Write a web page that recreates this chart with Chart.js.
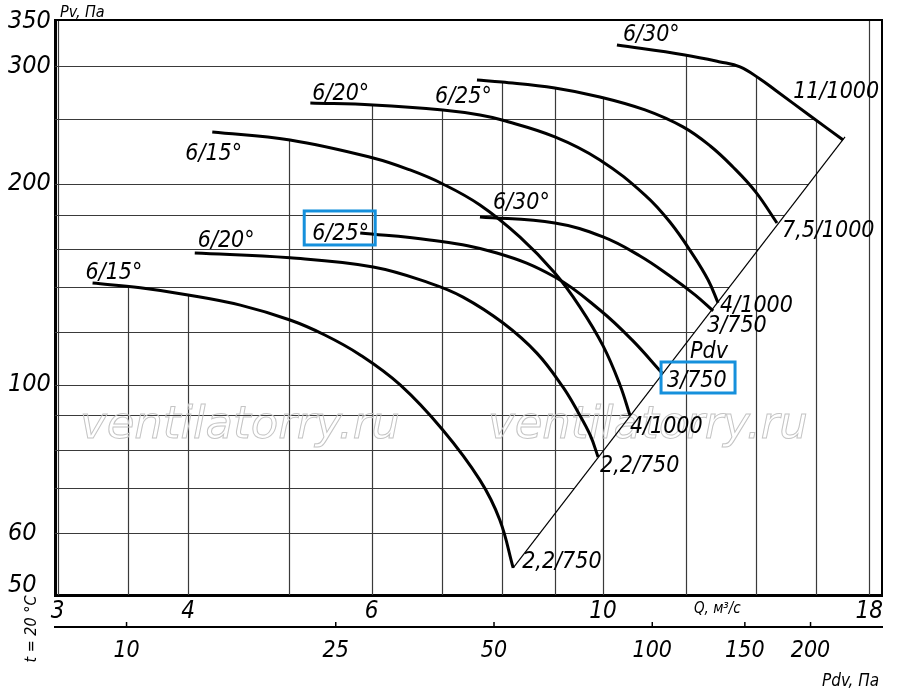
<!DOCTYPE html>
<html><head><meta charset="utf-8">
<script src="https://cdn.jsdelivr.net/npm/chart.js@4.4.0/dist/chart.umd.min.js"></script>
<style>html,body{margin:0;padding:0;background:#fff}#wrap{width:900px;height:690px;position:relative}</style>
</head><body><div id="wrap"><canvas id="c"></canvas></div>
<script>
// ---- axis ticks ----
const qTicks = [3, 3.5, 4, 5, 6, 7, 8, 9, 10, 12, 14, 16, 18];
const qLabels = [3, 4, 6, 10, 18];
const pvTicks = [50, 60, 70, 80, 90, 100, 120, 140, 160, 180, 200, 250, 300, 350];
const pvLabels = [50, 60, 100, 200, 300, 350];
const pvNoGrid = [50, 350];
const pdvTicks = [10, 25, 50, 100, 150, 200];

// ---- 750 rpm curves (Q, m3/s ; Pv, Pa) ----
const q750_15 = [3.24, 3.60, 4.00, 4.49, 5.01, 5.41, 5.85, 6.39, 7.02, 7.62, 7.96, 8.20];
const pv750_15 = [142.1, 139.8, 136.4, 131.7, 125.1, 118.8, 110.9, 100.0, 85.6, 72.0, 62.8, 53.2];
const q750_20 = [4.06, 5.01, 6.02, 6.82, 7.34, 8.02, 8.64, 9.15, 9.46, 9.72, 9.89];
const pv750_20 = [157.6, 155.0, 150.2, 142.1, 135.4, 123.8, 111.6, 99.3, 91.1, 84.1, 78.0];
const q750_25 = [5.85, 6.82, 7.91, 8.99, 9.93, 10.66, 11.39];
const pv750_25 = [168.9, 164.9, 157.6, 145.1, 129.5, 116.8, 104.2];
const q750_30 = [7.62, 8.99, 10.00, 10.85, 11.59, 12.25, 12.75];
const pv750_30 = [178.5, 174.8, 166.6, 156.0, 145.6, 136.4, 129.1];
// ---- 1000 rpm curves ----
const q1000_15 = [4.22, 5.01, 6.02, 6.53, 7.02, 7.62, 8.32, 8.99, 9.50, 10.00, 10.38, 10.61];
const pv1000_15 = [239.3, 232.8, 218.8, 209.9, 200.0, 186.0, 166.6, 147.1, 130.9, 114.4, 100.0, 90.1];
const q1000_20 = [5.24, 6.02, 7.02, 7.62, 8.00, 8.99, 9.93, 10.97, 11.59, 12.20, 12.61, 12.89];
const pv1000_20 = [264.5, 262.7, 258.2, 253.8, 249.4, 235.3, 217.3, 192.5, 175.4, 156.5, 143.6, 132.7];
const q1000_25 = [7.57, 8.00, 8.99, 9.93, 10.97, 11.93, 12.67, 13.32, 14.01, 14.68];
const pv1000_25 = [286.3, 284.3, 278.5, 270.0, 258.2, 243.5, 228.0, 212.1, 194.5, 174.8];
const q1000_30 = [10.31, 11.98, 12.95, 13.53, 14.14, 14.62, 15.79, 16.99];
const pv1000_30 = [323.0, 312.1, 304.7, 299.5, 287.3, 276.6, 253.0, 232.8];
// ---- Pdv line ----
const qPdvLine = [8.20, 17.06];
const pvPdvLine = [53.2, 235.3];

const FONT = '"DejaVu Sans Condensed", "DejaVu Sans", sans-serif';
const BLUE = '#1590dc';

const curves = [
  [q750_15, pv750_15], [q750_20, pv750_20], [q750_25, pv750_25], [q750_30, pv750_30],
  [q1000_15, pv1000_15], [q1000_20, pv1000_20], [q1000_25, pv1000_25], [q1000_30, pv1000_30]
];

const curveLabels = [
  {text:'6/15°', s:0, at:'start', dx:-7, dy:-4},
  {text:'6/20°', s:1, at:'start', dx:3, dy:-6},
  {text:'6/25°', s:2, at:'start', dx:-48, dy:7, box:[-56,-22,71,34]},
  {text:'6/30°', s:3, at:'start', dx:13, dy:-8},
  {text:'6/15°', s:4, at:'start', dx:-27, dy:28},
  {text:'6/20°', s:5, at:'start', dx:2, dy:-3},
  {text:'6/25°', s:6, at:'start', dx:-42, dy:23},
  {text:'6/30°', s:7, at:'start', dx:6, dy:-4},
  {text:'2,2/750', s:0, at:'end', dx:9, dy:0},
  {text:'2,2/750', s:1, at:'end', dx:2, dy:15},
  {text:'3/750', s:2, at:'end', dx:5, dy:14, box:[-1,-11,74,31]},
  {text:'Pdv', s:2, at:'end', dx:28, dy:-15},
  {text:'3/750', s:3, at:'end', dx:-6, dy:21},
  {text:'4/1000', s:4, at:'end', dx:0, dy:18},
  {text:'4/1000', s:5, at:'end', dx:2, dy:9},
  {text:'7,5/1000', s:6, at:'end', dx:5, dy:14},
  {text:'11/1000', s:7, at:'end', dx:-50, dy:-42}
];

const datasets = curves.map(([q, pv]) => ({
  data: q.map((v, i) => ({x: v, y: pv[i]})),
  borderColor: '#000', borderWidth: 3, pointRadius: 0, showLine: true,
  tension: 0.4, fill: false, xAxisID: 'x', yAxisID: 'y'
}));
datasets.push({
  data: qPdvLine.map((v, i) => ({x: v, y: pvPdvLine[i]})),
  borderColor: '#000', borderWidth: 1.2, pointRadius: 0, showLine: true, fill: false,
  xAxisID: 'x', yAxisID: 'y'
});

function polys(chart) {
  return chart.data.datasets.map((d, i) => chart.getDatasetMeta(i).data.map(p => ({x: p.x, y: p.y})));
}
function yAtX(poly, X) {
  for (let k = 0; k < poly.length - 1; k++) {
    const a = poly[k], b = poly[k + 1];
    if (a.x <= X && X <= b.x && b.x !== a.x) return a.y + (b.y - a.y) * (X - a.x) / (b.x - a.x);
  }
  return null;
}
function xAtY(poly, Y) {
  let best = null;
  for (let k = 0; k < poly.length - 1; k++) {
    const a = poly[k], b = poly[k + 1];
    if ((a.y - Y) * (b.y - Y) <= 0 && a.y !== b.y) {
      const x = a.x + (b.x - a.x) * (Y - a.y) / (b.y - a.y);
      if (best === null || x > best) best = x;
    }
  }
  return best;
}

const gridPlugin = {
  id: 'clippedGrid',
  beforeDatasetsDraw(chart) {
    const {ctx, chartArea: a, scales} = chart;
    const P = polys(chart);
    ctx.save();
    ctx.strokeStyle = '#3a3a3a';
    ctx.lineWidth = 1.2;
    pvTicks.forEach(v => {
      if (pvNoGrid.includes(v)) return;
      const Y = Math.round(scales.y.getPixelForValue(v)) + 0.5;
      let right = null;
      P.forEach(p => { const x = xAtY(p, Y); if (x !== null && (right === null || x > right)) right = x; });
      if (right === null) right = a.right;
      ctx.beginPath(); ctx.moveTo(a.left, Y); ctx.lineTo(right, Y); ctx.stroke();
    });
    qTicks.forEach(v => {
      const X = Math.round(scales.x.getPixelForValue(v)) + 0.5;
      let top = null;
      P.forEach(p => { const y = yAtX(p, X); if (y !== null && (top === null || y < top)) top = y; });
      if (top === null) top = a.top;
      ctx.beginPath(); ctx.moveTo(X, top); ctx.lineTo(X, a.bottom); ctx.stroke();
    });
    // watermarks
    ctx.font = 'italic 45px "DejaVu Sans", sans-serif';
    ctx.strokeStyle = '#c4c4c4';
    ctx.lineWidth = 1;
    ctx.textBaseline = 'alphabetic';
    ctx.strokeText('ventilatorry.ru', 80, 438);
    ctx.strokeText('ventilatorry.ru', 488, 438);
    ctx.restore();
  },
  afterDraw(chart) {
    const {ctx, chartArea: a, scales} = chart;
    ctx.save();
    // top & right frame
    ctx.strokeStyle = '#000';
    ctx.lineWidth = 2;
    ctx.beginPath();
    ctx.moveTo(a.left, a.top); ctx.lineTo(a.right, a.top); ctx.lineTo(a.right, a.bottom);
    ctx.stroke();
    // Pdv ticks (upward)
    ctx.lineWidth = 1.5;
    const top2 = scales.x2.top;
    pdvTicks.forEach(v => {
      const X = scales.x2.getPixelForValue(v);
      ctx.beginPath(); ctx.moveTo(X, top2); ctx.lineTo(X, top2 - 5); ctx.stroke();
    });
    // curve labels
    const P = polys(chart);
    ctx.fillStyle = '#000';
    ctx.textAlign = 'left';
    ctx.textBaseline = 'alphabetic';
    ctx.font = 'italic 23px ' + FONT;
    curveLabels.forEach(l => {
      const p = P[l.s];
      const pt = l.at === 'start' ? p[0] : p[p.length - 1];
      ctx.fillText(l.text, pt.x + l.dx, pt.y + l.dy);
      if (l.box) {
        ctx.strokeStyle = BLUE; ctx.lineWidth = 3;
        ctx.strokeRect(pt.x + l.box[0], pt.y + l.box[1], l.box[2], l.box[3]);
      }
    });
    // axis titles
    ctx.font = 'italic 16px ' + FONT;
    ctx.fillText('Pv, Па', 60, 17);
    ctx.font = 'italic 15px ' + FONT;
    ctx.fillText('Q, м³/с', 694, 613);
    ctx.font = 'italic 17px ' + FONT;
    ctx.fillText('Pdv, Па', 822, 686);
    ctx.translate(36, 629);
    ctx.rotate(-Math.PI / 2);
    ctx.textAlign = 'center';
    ctx.font = 'italic 16px ' + FONT;
    ctx.fillText('t = 20 °C', 0, 0);
    ctx.restore();
  }
};

const tickFont = (size) => ({family: FONT, size: size, style: 'italic'});

new Chart(document.getElementById('c'), {
  type: 'scatter',
  data: {datasets},
  plugins: [gridPlugin],
  options: {
    responsive: true, maintainAspectRatio: false, animation: false,
    layout: {padding: {top: 20, right: 18, left: 8, bottom: 0}},
    plugins: {legend: {display: false}, tooltip: {enabled: false}},
    scales: {
      x: {
        type: 'logarithmic', position: 'bottom', min: 2.9822, max: 18.51, weight: 0,
        grid: {display: false, drawTicks: false},
        border: {display: true, color: '#000', width: 3},
        afterBuildTicks: s => { s.ticks = qTicks.map(v => ({value: v})); },
        afterFit: s => { s.height = 32; },
        ticks: {autoSkip: false, maxRotation: 0, padding: 2, color: '#000', font: tickFont(24),
          callback: v => qLabels.includes(v) ? String(v) : ''}
      },
      x2: {
        type: 'logarithmic', position: 'bottom', min: 7.31, max: 273.5, weight: 1,
        grid: {display: false, drawTicks: false},
        border: {display: true, color: '#000', width: 2},
        afterBuildTicks: s => { s.ticks = pdvTicks.map(v => ({value: v})); },
        afterFit: s => { s.height = 63; },
        ticks: {autoSkip: false, maxRotation: 0, padding: 10, color: '#000', font: tickFont(23),
          callback: v => String(v)}
      },
      y: {
        type: 'logarithmic', position: 'left', min: 48.45, max: 352.1,
        grid: {display: false, drawTicks: false},
        border: {display: true, color: '#000', width: 3},
        afterBuildTicks: s => { s.ticks = pvTicks.map(v => ({value: v})); },
        afterFit: s => { s.width = 47; },
        ticks: {autoSkip: false, crossAlign: 'far', padding: 0, color: '#000', font: tickFont(25),
          callback: v => pvLabels.includes(v) ? String(v) : ''}
      }
    }
  }
});
</script>
</body></html>
